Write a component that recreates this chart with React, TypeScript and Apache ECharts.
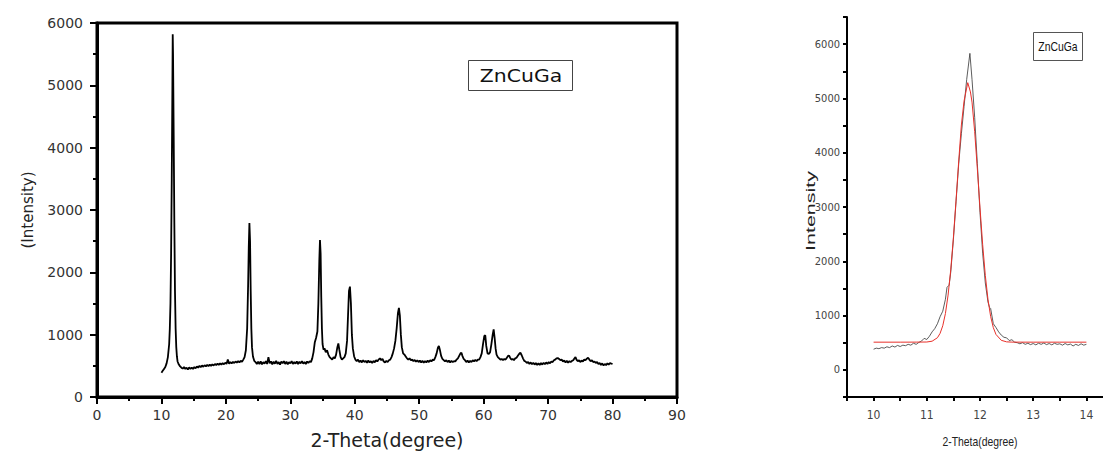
import React, { useEffect, useRef } from "react";
import * as echarts from "echarts";

// ---- Left panel: full XRD pattern (2-Theta, Intensity) ----
const xrdPattern: [number, number][] = [
  [10.0, 390], [10.2, 420], [10.4, 450], [10.6, 480], [10.8, 540], [11.0, 640], [11.2, 850], [11.3, 1100],
  [11.4, 1500], [11.5, 2300], [11.6, 3500], [11.7, 5000], [11.75, 5820], [11.8, 5500], [11.9, 4200],
  [12.0, 2800], [12.1, 1700], [12.2, 1100], [12.3, 800], [12.4, 650], [12.5, 570], [12.7, 520], [12.9, 490],
  [13.1, 470], [13.3, 455], [13.5, 480], [13.7, 450], [13.9, 470], [14.1, 440], [14.3, 475], [14.5, 450],
  [14.7, 470], [14.9, 450], [15.1, 480], [15.3, 460], [15.5, 490], [15.7, 470], [15.9, 500], [16.1, 480],
  [16.3, 505], [16.5, 485], [16.7, 510], [16.9, 490], [17.1, 515], [17.3, 495], [17.5, 520], [17.7, 500],
  [17.9, 525], [18.1, 505], [18.3, 530], [18.5, 510], [18.7, 535], [18.9, 515], [19.1, 540], [19.3, 520],
  [19.5, 545], [19.7, 525], [19.9, 550], [20.1, 530], [20.3, 600], [20.5, 535], [20.7, 560], [20.9, 540],
  [21.1, 565], [21.3, 545], [21.5, 570], [21.7, 550], [21.9, 575], [22.1, 555], [22.3, 580], [22.5, 565],
  [22.7, 600], [22.9, 640], [23.1, 750], [23.3, 1100], [23.45, 1800], [23.55, 2400], [23.65, 2790],
  [23.75, 2500], [23.85, 1700], [23.95, 1100], [24.05, 800], [24.2, 650], [24.4, 580], [24.6, 560],
  [24.8, 530], [25.0, 565], [25.2, 530], [25.4, 570], [25.6, 525], [25.8, 560], [26.0, 535], [26.2, 575],
  [26.4, 530], [26.6, 640], [26.8, 540], [27.0, 570], [27.2, 525], [27.4, 565], [27.6, 535], [27.8, 580],
  [28.0, 530], [28.2, 560], [28.4, 520], [28.6, 570], [28.8, 540], [29.0, 575], [29.2, 530], [29.4, 565],
  [29.6, 525], [29.8, 560], [30.0, 540], [30.2, 575], [30.4, 530], [30.6, 560], [30.8, 535], [31.0, 570],
  [31.2, 530], [31.4, 565], [31.6, 540], [31.8, 575], [32.0, 535], [32.2, 560], [32.4, 530], [32.6, 570],
  [32.8, 545], [33.0, 575], [33.2, 560], [33.4, 620], [33.6, 720], [33.8, 880], [34.0, 950], [34.2, 1050],
  [34.35, 1500], [34.5, 2200], [34.6, 2520], [34.7, 2300], [34.8, 1600], [34.9, 1100], [35.0, 850],
  [35.15, 760], [35.3, 780], [35.5, 720], [35.7, 750], [35.9, 680], [36.1, 640], [36.3, 620], [36.5, 600],
  [36.7, 640], [36.9, 620], [37.1, 680], [37.3, 800], [37.45, 860], [37.6, 760], [37.8, 640], [38.0, 600],
  [38.2, 620], [38.4, 640], [38.6, 700], [38.8, 900], [38.95, 1300], [39.1, 1700], [39.25, 1770],
  [39.4, 1500], [39.55, 1000], [39.7, 780], [39.9, 650], [40.1, 600], [40.3, 575], [40.5, 600], [40.7, 560],
  [40.9, 585], [41.1, 555], [41.3, 590], [41.5, 560], [41.7, 580], [41.9, 550], [42.1, 585], [42.3, 555],
  [42.5, 575], [42.7, 545], [42.9, 580], [43.1, 555], [43.3, 590], [43.5, 570], [43.7, 600], [43.9, 620],
  [44.1, 590], [44.3, 610], [44.5, 570], [44.7, 555], [44.9, 580], [45.1, 560], [45.3, 590], [45.5, 600],
  [45.7, 640], [45.9, 700], [46.1, 780], [46.3, 900], [46.5, 1100], [46.7, 1350], [46.85, 1430],
  [47.0, 1300], [47.15, 1000], [47.3, 800], [47.5, 700], [47.7, 680], [47.9, 650], [48.1, 620], [48.3, 600],
  [48.5, 620], [48.7, 590], [48.9, 600], [49.1, 575], [49.3, 595], [49.5, 565], [49.7, 590], [49.9, 560],
  [50.1, 585], [50.3, 555], [50.5, 580], [50.7, 550], [50.9, 575], [51.1, 555], [51.3, 585], [51.5, 560],
  [51.7, 590], [51.9, 570], [52.1, 600], [52.3, 590], [52.5, 640], [52.7, 700], [52.9, 790], [53.05, 820],
  [53.2, 760], [53.4, 660], [53.6, 610], [53.8, 590], [54.0, 570], [54.2, 590], [54.4, 560], [54.6, 585],
  [54.8, 555], [55.0, 580], [55.2, 560], [55.4, 575], [55.6, 570], [55.8, 600], [56.0, 620], [56.2, 660],
  [56.4, 700], [56.55, 710], [56.7, 660], [56.9, 610], [57.1, 590], [57.3, 560], [57.5, 585], [57.7, 555],
  [57.9, 580], [58.1, 560], [58.3, 590], [58.5, 570], [58.7, 595], [58.9, 575], [59.1, 600], [59.3, 600],
  [59.5, 640], [59.7, 700], [59.9, 850], [60.1, 980], [60.25, 990], [60.4, 820], [60.6, 700], [60.8, 690],
  [61.0, 720], [61.2, 850], [61.4, 1000], [61.55, 1085], [61.7, 950], [61.85, 780], [62.0, 680],
  [62.2, 640], [62.4, 620], [62.6, 600], [62.8, 610], [63.0, 590], [63.2, 610], [63.4, 600], [63.6, 630],
  [63.8, 660], [63.95, 665], [64.1, 630], [64.3, 600], [64.5, 610], [64.7, 590], [64.9, 620], [65.1, 630],
  [65.3, 660], [65.5, 690], [65.7, 710], [65.9, 670], [66.1, 620], [66.3, 580], [66.5, 570], [66.7, 545],
  [66.9, 560], [67.1, 530], [67.3, 555], [67.5, 525], [67.7, 550], [67.9, 520], [68.1, 545], [68.3, 515],
  [68.5, 540], [68.7, 515], [68.9, 545], [69.1, 520], [69.3, 550], [69.5, 525], [69.7, 555], [69.9, 530],
  [70.1, 560], [70.3, 540], [70.5, 570], [70.7, 560], [70.9, 590], [71.1, 600], [71.3, 620], [71.5, 625],
  [71.7, 610], [71.9, 590], [72.1, 600], [72.3, 570], [72.5, 585], [72.7, 555], [72.9, 580], [73.1, 550],
  [73.3, 575], [73.5, 560], [73.7, 580], [73.9, 590], [74.1, 620], [74.25, 640], [74.4, 600], [74.6, 575],
  [74.8, 590], [75.0, 560], [75.2, 585], [75.4, 570], [75.6, 600], [75.8, 590], [76.0, 615], [76.2, 630],
  [76.4, 600], [76.6, 575], [76.8, 590], [77.0, 560], [77.2, 570], [77.4, 545], [77.6, 560], [77.8, 530],
  [78.0, 545], [78.2, 515], [78.4, 540], [78.6, 505], [78.8, 530], [79.0, 510], [79.2, 540], [79.4, 520],
  [79.6, 545], [79.8, 535], [80.0, 530],
];

// ---- Right panel: zoom on the main peak, measured and fitted ----
const peakMeasured: [number, number][] = [
  [10.0, 380], [10.05, 400], [10.1, 390], [10.15, 410], [10.2, 400], [10.25, 425], [10.3, 410], [10.35, 440],
  [10.4, 420], [10.45, 450], [10.5, 430], [10.55, 455], [10.6, 445], [10.65, 470], [10.7, 455], [10.75, 490],
  [10.8, 470], [10.85, 505], [10.9, 530], [10.95, 580], [11.0, 560], [11.05, 620], [11.1, 700], [11.15, 760],
  [11.2, 850], [11.25, 980], [11.3, 1080], [11.35, 1300], [11.38, 1520], [11.42, 1560], [11.45, 1800],
  [11.5, 2400], [11.55, 3100], [11.6, 3800], [11.65, 4350], [11.7, 4850], [11.75, 5350], [11.81, 5830],
  [11.85, 5350], [11.9, 4650], [11.95, 3800], [12.0, 2900], [12.05, 2150], [12.1, 1600], [12.15, 1250],
  [12.18, 1150], [12.2, 1130], [12.25, 850], [12.3, 780], [12.35, 700], [12.4, 640], [12.45, 600],
  [12.5, 590], [12.55, 540], [12.6, 555], [12.65, 510], [12.7, 500], [12.75, 480], [12.8, 500], [12.85, 470],
  [12.9, 490], [12.95, 465], [13.0, 485], [13.05, 460], [13.1, 490], [13.15, 470], [13.2, 495], [13.25, 465],
  [13.3, 485], [13.35, 460], [13.4, 490], [13.45, 470], [13.5, 480], [13.55, 455], [13.6, 485], [13.65, 460],
  [13.7, 475], [13.75, 440], [13.8, 470], [13.85, 450], [13.9, 480], [13.95, 455], [14.0, 470],
];

const peakFit: [number, number][] = [
  [10.0, 510], [10.5, 510], [10.8, 511], [11.0, 513], [11.1, 528], [11.2, 592], [11.25, 673], [11.3, 812],
  [11.35, 1037], [11.4, 1377], [11.45, 1842], [11.5, 2436], [11.55, 3125], [11.6, 3848], [11.65, 4511],
  [11.7, 4950], [11.77, 5290], [11.82, 5120], [11.85, 4932], [11.9, 4388], [11.95, 3705], [12.0, 2983],
  [12.05, 2307], [12.1, 1738], [12.15, 1297], [12.2, 985], [12.25, 778], [12.3, 653], [12.4, 544],
  [12.5, 516], [12.6, 511], [13.0, 510], [13.5, 510], [14.0, 510],
];

const sampleName = "ZnCuGa";
const xName = "2-Theta(degree)";
const leftYName = "(Intensity)";
const rightYName = "Intensity";

const wideFont = "DejaVu Sans";
const narrowFont = "'Liberation Sans Narrow', 'DejaVu Sans Condensed', 'Liberation Sans', Arial, sans-serif";

export default function App() {
  const ref = useRef<HTMLDivElement>(null);

  useEffect(() => {
    if (!ref.current) return;
    const chart = echarts.init(ref.current, undefined, { renderer: "svg" });
    const black = "#000";
    const option: any = {
      animation: false,
      backgroundColor: "#fff",
      grid: [
        {
          left: 97, top: 23, width: 580, height: 374, show: true, borderColor: black, borderWidth: 3,
          backgroundColor: "transparent", outerBoundsMode: "none", containLabel: false,
        },
        { left: 847, top: 17, width: 266, height: 380, show: false, outerBoundsMode: "none", containLabel: false },
      ],
      xAxis: [
        {
          type: "value", gridIndex: 0, min: 0, max: 90, interval: 10,
          axisLine: { show: true, onZero: false, lineStyle: { color: black, width: 3 } },
          axisTick: { show: true, inside: false, length: 7, lineStyle: { color: black, width: 2 } },
          minorTick: { show: true, splitNumber: 2, length: 4, lineStyle: { color: black, width: 2 } },
          splitLine: { show: false },
          axisLabel: { fontFamily: wideFont, fontSize: 14, color: "#333", margin: 11, formatter: (v: number) => String(v) },
          name: xName, nameLocation: "middle", nameGap: 33,
          nameTextStyle: { fontFamily: wideFont, fontSize: 19, color: "#222" },
        },
        {
          type: "value", gridIndex: 1, min: 9.5, max: 14.5, interval: 0.5,
          axisLine: { show: true, onZero: false, lineStyle: { color: black, width: 2 } },
          axisTick: { show: true, inside: false, length: 4, lineStyle: { color: black, width: 2 } },
          splitLine: { show: false },
          axisLabel: {
            fontFamily: narrowFont, fontSize: 12, color: "#444", margin: 12, showMaxLabel: true,
            formatter: (v: number) => (Math.abs(v - Math.round(v)) < 1e-6 ? String(Math.round(v)) : ""),
          },
        },
      ],
      yAxis: [
        {
          type: "value", gridIndex: 0, min: 0, max: 6000, interval: 1000,
          axisLine: { show: true, onZero: false, lineStyle: { color: black, width: 3 } },
          axisTick: { show: true, inside: false, length: 7, lineStyle: { color: black, width: 2 } },
          minorTick: { show: true, splitNumber: 2, length: 4, lineStyle: { color: black, width: 2 } },
          splitLine: { show: false },
          axisLabel: { fontFamily: wideFont, fontSize: 14, color: "#333", margin: 14, formatter: (v: number) => String(v) },
          name: leftYName, nameLocation: "middle", nameRotate: 90, nameGap: 62,
          nameTextStyle: { fontFamily: wideFont, fontSize: 15, color: "#222" },
        },
        {
          type: "value", gridIndex: 1, min: -500, max: 6500, interval: 500,
          axisLine: { show: true, onZero: false, lineStyle: { color: black, width: 2 } },
          axisTick: { show: true, inside: false, length: 4, lineStyle: { color: black, width: 2 } },
          splitLine: { show: false },
          axisLabel: {
            fontFamily: narrowFont, fontSize: 11, color: "#444", margin: 7,
            formatter: (v: number) => (v % 1000 === 0 ? String(v) : ""),
          },
        },
      ],
      series: [
        {
          type: "line", xAxisIndex: 0, yAxisIndex: 0, data: xrdPattern, showSymbol: false,
          lineStyle: { color: "#000", width: 1.8 }, z: 3,
        },
        {
          type: "line", xAxisIndex: 1, yAxisIndex: 1, data: peakMeasured, showSymbol: false,
          lineStyle: { color: "#333", width: 0.8 }, z: 3,
        },
        {
          type: "line", xAxisIndex: 1, yAxisIndex: 1, data: peakFit, showSymbol: false,
          lineStyle: { color: "#e8302a", width: 1 }, z: 4,
        },
      ],
      graphic: [
        { type: "rect", shape: { x: 468.5, y: 60.5, width: 104, height: 30 }, style: { fill: "#fff", stroke: "#444", lineWidth: 1 }, z: 10 },
        {
          type: "text", x: 521, y: 76, scaleX: 1.2, z: 11,
          style: { text: sampleName, fill: "#111", font: `17px ${wideFont}`, align: "center", verticalAlign: "middle" },
        },
        { type: "rect", shape: { x: 1033.5, y: 32.5, width: 49, height: 28 }, style: { fill: "#fff", stroke: "#555", lineWidth: 1 }, z: 10 },
        {
          type: "text", x: 1058, y: 46.5, scaleX: 0.8, z: 11,
          style: { text: sampleName, fill: "#111", font: "13px 'Liberation Sans', Arial, sans-serif", align: "center", verticalAlign: "middle" },
        },
        {
          type: "text", x: 811, y: 211, rotation: Math.PI / 2, scaleX: 1.65, z: 11,
          style: { text: rightYName, fill: "#222", font: "13px 'Liberation Sans', Arial, sans-serif", align: "center", verticalAlign: "middle" },
        },
        {
          type: "text", x: 980, y: 441, scaleX: 0.8, z: 11,
          style: { text: xName, fill: "#222", font: "13px 'Liberation Sans', Arial, sans-serif", align: "center", verticalAlign: "middle" },
        },
      ],
    };
    chart.setOption(option);
    return () => chart.dispose();
  }, []);

  return (
    <div
      ref={ref}
      style={{ position: "absolute", left: 0, top: 0, width: 1103, height: 452, background: "#fff" }}
    />
  );
}
